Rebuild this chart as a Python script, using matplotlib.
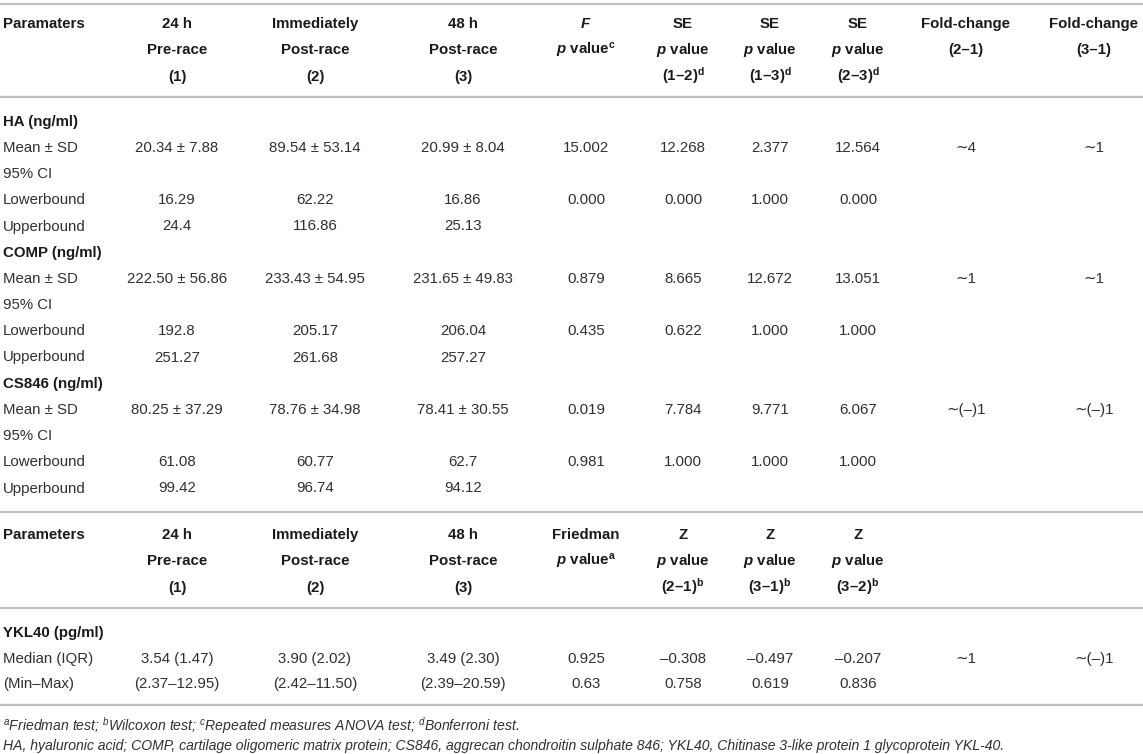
import matplotlib
matplotlib.use("Agg")
import matplotlib.pyplot as plt
from matplotlib.lines import Line2D

plt.rcParams['font.family'] = ['Liberation Sans', 'DejaVu Sans']
plt.rcParams['mathtext.fontset'] = 'custom'
plt.rcParams['mathtext.rm'] = 'Liberation Sans'
plt.rcParams['mathtext.it'] = 'Liberation Sans:italic'
plt.rcParams['mathtext.bf'] = 'Liberation Sans:bold'
try:
    plt.rcParams['mathtext.bfit'] = 'Liberation Sans:italic:bold'
    BFIT = True
except Exception:
    BFIT = False

# ---------------- data ----------------
header_params_1 = "Paramaters"
header_params_2 = "Parameters"
time_headers = [["24 h", "Pre-race", "(1)"],
                ["Immediately", "Post-race", "(2)"],
                ["48 h", "Post-race", "(3)"]]
pv = r"$\mathbfit{p}$ value" if BFIT else r"$\mathit{p}$ value"
F_header = [r"$\mathbfit{F}$" if BFIT else "F", pv + r"$^{\mathbf{c}}$"]
SE_headers = [["SE", pv, r"(1–2)$^{\mathbf{d}}$"],
              ["SE", pv, r"(1–3)$^{\mathbf{d}}$"],
              ["SE", pv, r"(2–3)$^{\mathbf{d}}$"]]
fold_headers = [["Fold-change", "(2–1)"], ["Fold-change", "(3–1)"]]
friedman_header = ["Friedman", pv + r"$^{\mathbf{a}}$"]
Z_headers = [["Z", pv, r"(2–1)$^{\mathbf{b}}$"],
             ["Z", pv, r"(3–1)$^{\mathbf{b}}$"],
             ["Z", pv, r"(3–2)$^{\mathbf{b}}$"]]

groups = ["HA (ng/ml)", "COMP (ng/ml)", "CS846 (ng/ml)"]
sub_rows = ["Mean ± SD", "95% CI", "Lowerbound", "Upperbound"]

mean_sd = [["20.34 ± 7.88", "89.54 ± 53.14", "20.99 ± 8.04"],
           ["222.50 ± 56.86", "233.43 ± 54.95", "231.65 ± 49.83"],
           ["80.25 ± 37.29", "78.76 ± 34.98", "78.41 ± 30.55"]]
F_stat = ["15.002", "0.879", "0.019"]
SE_vals = [["12.268", "2.377", "12.564"],
           ["8.665", "12.672", "13.051"],
           ["7.784", "9.771", "6.067"]]
fold_vals = [["∼4", "∼1"], ["∼1", "∼1"], ["∼(–)1", "∼(–)1"]]
lower = [["16.29", "62.22", "16.86"],
         ["192.8", "205.17", "206.04"],
         ["61.08", "60.77", "62.7"]]
F_p = ["0.000", "0.435", "0.981"]
SE_p = [["0.000", "1.000", "0.000"],
        ["0.622", "1.000", "1.000"],
        ["1.000", "1.000", "1.000"]]
upper = [["24.4", "116.86", "25.13"],
         ["251.27", "261.68", "257.27"],
         ["99.42", "96.74", "94.12"]]

ykl_group = "YKL40 (pg/ml)"
ykl_rows = ["Median (IQR)", "(Min–Max)"]
ykl_median = ["3.54 (1.47)", "3.90 (2.02)", "3.49 (2.30)"]
ykl_friedman = "0.925"
ykl_Z = ["–0.308", "–0.497", "–0.207"]
ykl_fold = ["∼1", "∼(–)1"]
ykl_minmax = ["(2.37–12.95)", "(2.42–11.50)", "(2.39–20.59)"]
ykl_friedman_p = "0.63"
ykl_Z_p = ["0.758", "0.619", "0.836"]

footnote1 = (r"$^{a}$Friedman test; $^{b}$Wilcoxon test; $^{c}$Repeated measures ANOVA test; "
             r"$^{d}$Bonferroni test.")
footnote2 = ("HA, hyaluronic acid; COMP, cartilage oligomeric matrix protein; CS846, aggrecan "
             "chondroitin sulphate 846; YKL40, Chitinase 3-like protein 1 glycoprotein YKL-40.")

# ---------------- layout ----------------
W, H = 1143, 754
fig = plt.figure(figsize=(W / 100, H / 100), dpi=100)
FS = 10.8
TXT_REG = '#303030'
TXT_BOLD = '#1a1a1a'
LINE = '#bfbfbf'

X_LABEL = 3
X_TIME = [177, 315, 463]
X_F = 586
X_SE = [683, 770, 858]
X_FOLD = [966, 1094]


def T(x, y, s, ha='center', weight='normal', style='normal', size=FS):
    fig.text(x / W, 1 - (y + 5.2) / H, s, ha=ha, va='baseline', fontsize=size,
             fontweight=weight, fontstyle=style,
             color=TXT_BOLD if weight == 'bold' else TXT_REG)


def HL(y):
    fig.add_artist(Line2D([0, 1], [1 - y / H] * 2, transform=fig.transFigure,
                          color=LINE, lw=1.6))


# block 1 header
HL(3.5)
hy = [23, 49, 75.5]
T(X_LABEL, hy[0], header_params_1, ha='left', weight='bold')
for x, hh in zip(X_TIME, time_headers):
    for y, s in zip(hy, hh):
        T(x, y, s, weight='bold')
for y, s in zip(hy, F_header):
    T(X_F, y, s, weight='bold')
for x, hh in zip(X_SE, SE_headers):
    for y, s in zip(hy, hh):
        T(x, y, s, weight='bold')
for x, hh in zip(X_FOLD, fold_headers):
    for y, s in zip(hy, hh):
        T(x, y, s, weight='bold')
HL(97)

# block 1 body
y0 = 120.5
dy = 26.2
for g in range(3):
    base = y0 + g * 5 * dy
    T(X_LABEL, base, groups[g], ha='left', weight='bold')
    for k, lab in enumerate(sub_rows):
        T(X_LABEL, base + (k + 1) * dy, lab, ha='left')
    ym = base + dy
    for x, s in zip(X_TIME, mean_sd[g]):
        T(x, ym, s)
    T(X_F, ym, F_stat[g])
    for x, s in zip(X_SE, SE_vals[g]):
        T(x, ym, s)
    for x, s in zip(X_FOLD, fold_vals[g]):
        T(x, ym, s)
    yl = base + 3 * dy
    for x, s in zip(X_TIME, lower[g]):
        T(x, yl, s)
    T(X_F, yl, F_p[g])
    for x, s in zip(X_SE, SE_p[g]):
        T(x, yl, s)
    yu = base + 4 * dy
    for x, s in zip(X_TIME, upper[g]):
        T(x, yu, s)

HL(512)

# block 2 header
hy2 = [533.5, 560, 586.5]
T(X_LABEL, hy2[0], header_params_2, ha='left', weight='bold')
for x, hh in zip(X_TIME, time_headers):
    for y, s in zip(hy2, hh):
        T(x, y, s, weight='bold')
for y, s in zip(hy2, friedman_header):
    T(X_F, y, s, weight='bold')
for x, hh in zip(X_SE, Z_headers):
    for y, s in zip(hy2, hh):
        T(x, y, s, weight='bold')
HL(608)

# block 2 body
T(X_LABEL, 632, ykl_group, ha='left', weight='bold')
T(X_LABEL, 657.5, ykl_rows[0], ha='left')
T(X_LABEL, 683, ykl_rows[1], ha='left')
for x, s in zip(X_TIME, ykl_median):
    T(x, 657.5, s)
T(X_F, 657.5, ykl_friedman)
for x, s in zip(X_SE, ykl_Z):
    T(x, 657.5, s)
for x, s in zip(X_FOLD, ykl_fold):
    T(x, 657.5, s)
for x, s in zip(X_TIME, ykl_minmax):
    T(x, 683, s)
T(X_F, 683, ykl_friedman_p)
for x, s in zip(X_SE, ykl_Z_p):
    T(x, 683, s)
HL(705)

# footnotes
T(X_LABEL, 725, footnote1, ha='left', style='italic', size=10.1)
T(X_LABEL, 745, footnote2, ha='left', style='italic', size=10.1)

fig.savefig("out.png", dpi=100, facecolor='white')
